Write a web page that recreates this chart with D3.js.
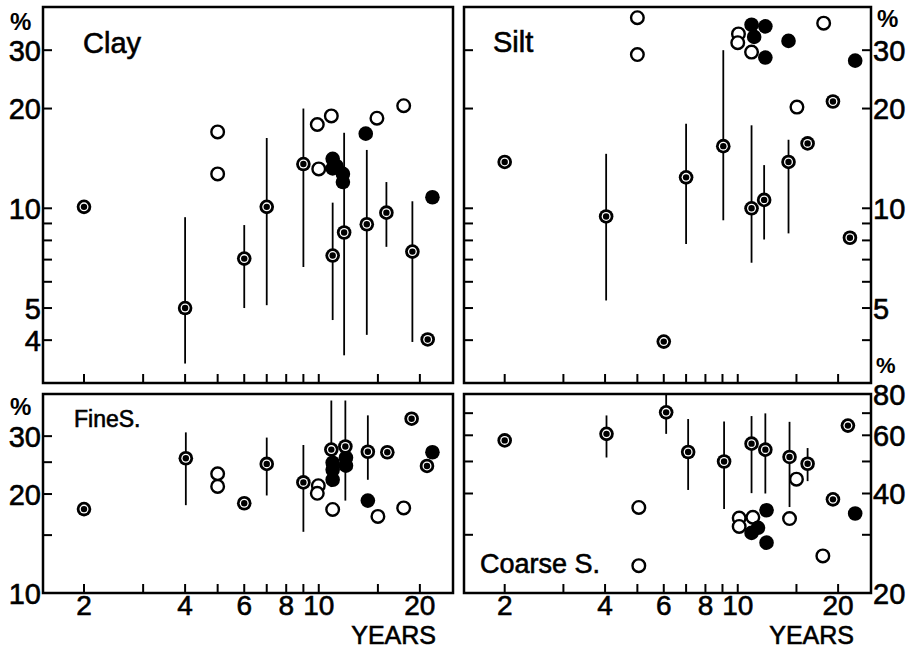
<!DOCTYPE html>
<html><head><meta charset="utf-8">
<script src="https://cdn.jsdelivr.net/npm/d3@7"></script>
<style>body{margin:0;background:#fff}</style>
</head><body>
<svg id="c" width="910" height="650"></svg>
<script>
// ---------- axis ticks ----------
const xTicks = [2,3,4,5,6,7,8,9,10,15,20];
const xTickLabels = [2,4,6,8,10,20];
const topTicks = [4,5,6,7,8,9,10,20,30];
const topTickLabelsL = [4,5,10,20,30];
const topTickLabelsR = [5,10,20,30];
const fineTicks = [15,20,25,30];
const fineTickLabels = [10,20,30];
const coarseTicks = [30,40,50,60,70];
const coarseTickLabels = [20,40,60,80];

// ---------- data: [years, value, low, high] ----------
const clayRing = [[2,10.1],[4,5.0,3.4,9.4],[6,7.05,5.0,8.9],[7,10.1,5.1,16.3],[9,13.6,6.65,20],
  [11,7.2,4.6,10.4],[11.9,8.45,3.6,16.9],[13.9,8.95,4.15,15.0],[15.9,9.7,7.65,12.0],[19,7.4,3.95,10.5],[21.1,4.02]];
const clayOpen = [[5,17],[5,12.7],[9.9,17.9],[10,13.15],[10.9,19.0],[14.9,18.7],[17.9,20.4]];
const clayFilled = [[11.0,14.1],[11.3,13.4],[11.0,13.2],[11.8,12.7],[11.8,12.0],[13.8,16.8],[21.8,10.8]];

const siltRing = [[2,13.8],[4.03,9.45,5.27,14.6],[6,3.96],[7,12.4,7.8,18],[9.05,15.4,9.2,30],
  [11,10.0,6.85,17.8],[12,10.6,8.05,13.5],[14.2,13.8,8.4,16.1],[16.2,15.7],[19.3,21],[21.7,8.15]];
const siltOpen = [[5,37.6],[5,29.1],[10.05,33.6],[10,31.6],[11,29.6],[15.05,20.2],[18.1,36.2]];
const siltFilled = [[11,35.8],[11.2,32.9],[12.1,35.4],[12.1,28.5],[14.2,32],[22.5,27.9]];

const fineRing = [[2,18],[4.02,25.7,18.5,30.8],[6,18.75],[7,24.7,19.8,29.7],[9,21.7,15.35,28.2],
  [10.9,27.3,21,38.5],[12,27.9,19.1,38.5],[14,26.9,22.1,34.7],[16,26.8],[18.9,33.9],[21,24.35]];
const fineOpen = [[5,23.05],[5,21.1],[9.97,21.2],[9.9,20.1],[11,17.95],[15,17.1],[17.9,18.15]];
const fineFilled = [[11,24.9],[11,23.7],[11,22.1],[12.05,25.8],[12.05,24.4],[14,19.1],[21.8,26.8]];

const coarseRing = [[2,57.9],[4.04,60.6,51.4,68.9],[6.1,70.4,60.6,79.5],[7.1,53.4,41,67.2],[9.1,50,35.9,66.1],
  [11,56.6,40.1,68.6],[12.1,54.3,40,69.9],[14.3,51.6,36.4,65.9],[16.2,49.2,43.6,54.9],[19.3,38.4],[21.4,64.2]];
const coarseOpen = [[5.05,36.3],[5.05,24.2],[10.1,33.7],[10.1,31.8],[11.1,33.9],[14.3,33.6],[15,44.2],[18,25.9]];
const coarseFilled = [[11,30.4],[11.5,31.5],[12.2,35.6],[12.2,28.4],[22.5,34.8]];

// ---------- drawing ----------
const svg = d3.select('#c');
svg.append('rect').attr('width',910).attr('height',650).attr('fill','#fff');
const FONT = '"Liberation Sans", Arial, sans-serif';

const xL = d3.scaleLog().domain([1.51,25.1]).range([43,453]);
const xR = d3.scaleLog().domain([1.51,25.1]).range([464,871]);
const yTop = d3.scaleLog().domain([2.97,40.5]).range([383,7]);
const yFine = d3.scaleLog().domain([10,40.3]).range([593,394]);
const yCoarse = d3.scaleLog().domain([20,80]).range([593,394]);

function txt(g){
  return g.attr('font-family',FONT).attr('fill','#000').attr('stroke','#000').attr('stroke-width',0.6);
}

function panel(o){
  const g = svg.append('g');
  const [x0,x1] = o.x.range(), [y1,y0] = o.y.range();
  // error bars
  g.selectAll('line.err').data(o.ring.filter(d=>d.length>2)).enter().append('line')
    .attr('x1',d=>o.x(d[0])).attr('x2',d=>o.x(d[0]))
    .attr('y1',d=>o.y(d[2])).attr('y2',d=>o.y(d[3]))
    .attr('stroke','#000').attr('stroke-width',1.8);
  // open
  g.selectAll('circle.o').data(o.open).enter().append('circle')
    .attr('cx',d=>o.x(d[0])).attr('cy',d=>o.y(d[1])).attr('r',6.3)
    .attr('fill','#fff').attr('stroke','#000').attr('stroke-width',2.4);
  // filled
  g.selectAll('circle.f').data(o.filled).enter().append('circle')
    .attr('cx',d=>o.x(d[0])).attr('cy',d=>o.y(d[1])).attr('r',7.3).attr('fill','#000');
  // rings
  const r = g.selectAll('g.r').data(o.ring).enter().append('g')
    .attr('transform',d=>`translate(${o.x(d[0])},${o.y(d[1])})`);
  r.append('circle').attr('r',7.3).attr('fill','#000');
  r.append('circle').attr('r',4.5).attr('fill','#fff');
  r.append('circle').attr('r',3.2).attr('fill','#000');
  // frame
  g.append('rect').attr('x',x0).attr('y',y0).attr('width',x1-x0).attr('height',y1-y0)
    .attr('fill','none').attr('stroke','#000').attr('stroke-width',2.5);
  // x ticks (bottom, inward)
  g.selectAll('line.xt').data(xTicks).enter().append('line')
    .attr('x1',d=>o.x(d)).attr('x2',d=>o.x(d)).attr('y1',y1).attr('y2',y1-9)
    .attr('stroke','#000').attr('stroke-width',2);
  // y ticks
  o.tickSides.forEach(side=>{
    const xe = side==='left'?x0:x1, dir = side==='left'?1:-1;
    g.selectAll('line.yt'+side).data(o.yTicks).enter().append('line')
      .attr('x1',xe).attr('x2',xe+dir*9).attr('y1',d=>o.y(d)).attr('y2',d=>o.y(d))
      .attr('stroke','#000').attr('stroke-width',2);
  });
  // y labels
  txt(g.selectAll('text.yl').data(o.yLabels).enter().append('text'))
    .attr('x',o.labelSide==='left'? x0-2 : x1+2)
    .attr('y',d=>o.y(d)+10.5)
    .attr('text-anchor',o.labelSide==='left'?'end':'start')
    .attr('font-size',29).text(d=>d);
  // x labels
  if(o.xLabels){
    txt(g.selectAll('text.xl').data(xTickLabels).enter().append('text'))
      .attr('x',d=>o.x(d)).attr('y',615).attr('text-anchor','middle')
      .attr('font-size',28).text(d=>d);
    txt(g.append('text')).attr('x',x1-17).attr('y',644).attr('text-anchor','end')
      .attr('font-size',25).text('YEARS');
  }
  // title
  txt(g.append('text')).attr('x',o.tx).attr('y',o.ty).attr('font-size',o.ts).text(o.title);
  // percent
  g.append('text').attr('x',o.px).attr('y',o.py).attr('font-family',FONT)
    .attr('font-size',o.pf||24).attr('font-weight','bold').attr('fill','#000').text('%');
}

panel({x:xL,y:yTop,ring:clayRing,open:clayOpen,filled:clayFilled,yTicks:topTicks,
  tickSides:['left'],yLabels:topTickLabelsL,labelSide:'left',title:'Clay',tx:83,ty:53,ts:29,px:10,py:30});
panel({x:xR,y:yTop,ring:siltRing,open:siltOpen,filled:siltFilled,yTicks:topTicks,
  tickSides:['left','right'],yLabels:topTickLabelsR,labelSide:'right',title:'Silt',tx:493,ty:52,ts:29,px:877,py:27});
panel({x:xL,y:yFine,ring:fineRing,open:fineOpen,filled:fineFilled,yTicks:fineTicks,
  tickSides:['left'],yLabels:fineTickLabels,labelSide:'left',title:'FineS.',tx:74,ty:427,ts:23,px:10,py:415,xLabels:true});
panel({x:xR,y:yCoarse,ring:coarseRing,open:coarseOpen,filled:coarseFilled,yTicks:coarseTicks,
  tickSides:['left','right'],yLabels:coarseTickLabels,labelSide:'right',title:'Coarse S.',tx:480,ty:573,ts:27,px:876,py:373,pf:22,xLabels:true});
</script>
</body></html>
